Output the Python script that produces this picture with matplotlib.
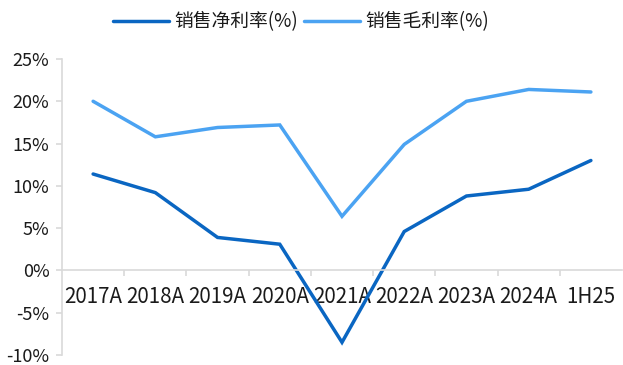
import matplotlib
matplotlib.use("Agg")
import matplotlib.pyplot as plt
import numpy as np

plt.rcParams['font.family'] = ['Noto Sans CJK SC', 'DejaVu Sans']

# Margin data (%)
periods = ['2017A', '2018A', '2019A', '2020A', '2021A', '2022A', '2023A', '2024A', '1H25']
net_margin = [11.4, 9.2, 3.9, 3.1, -8.5, 4.6, 8.8, 9.6, 13.0]
gross_margin = [20.0, 15.8, 16.9, 17.2, 6.4, 14.9, 20.0, 21.4, 21.1]

fig = plt.figure(figsize=(6.23, 3.65), dpi=100)
ax = fig.add_axes([62/623, 1-355/365, 560/623, 296/365])

x = np.arange(len(periods))
ax.plot(x, net_margin, color='#0A66C2', lw=2.5, solid_capstyle='round',
        solid_joinstyle='miter', label='销售净利率(%)')
ax.plot(x, gross_margin, color='#4BA3F2', lw=2.5, solid_capstyle='round',
        solid_joinstyle='miter', label='销售毛利率(%)')

ax.set_xlim(-0.5, len(periods) - 0.5)
ax.set_ylim(-10, 25)
ax.set_yticks(np.arange(-10, 26, 5))
ax.set_yticklabels([f'{v}%' for v in range(-10, 26, 5)])

ax.set_xticks(x)
ax.set_xticklabels(periods)
ax.set_xticks(np.arange(0.5, len(periods) - 0.5), minor=True)

grey = '#D9D9D9'
for s in ['top', 'right']:
    ax.spines[s].set_visible(False)
ax.spines['bottom'].set_position(('data', 0))
ax.spines['bottom'].set_color(grey)
ax.spines['left'].set_color(grey)
ax.spines['bottom'].set_linewidth(1.2)
ax.spines['left'].set_linewidth(1.2)

ax.tick_params(axis='x', which='major', length=0, pad=11, labelsize=14.8, labelcolor='#1a1a1a')
ax.tick_params(axis='x', which='minor', length=4, width=1.2, color=grey, direction='out')
ax.tick_params(axis='y', length=4, width=1.2, color=grey, pad=5, labelsize=13, labelcolor='#1a1a1a')

fig.legend(handles=ax.get_lines(), loc='center', bbox_to_anchor=(301/623, 1-22/365),
           bbox_transform=fig.transFigure, ncol=2, frameon=False,
           fontsize=13.5, handlelength=3.0, columnspacing=0.3, handletextpad=0.3,
           borderpad=0, labelcolor='#1a1a1a')

fig.savefig('out.png', dpi=100)
